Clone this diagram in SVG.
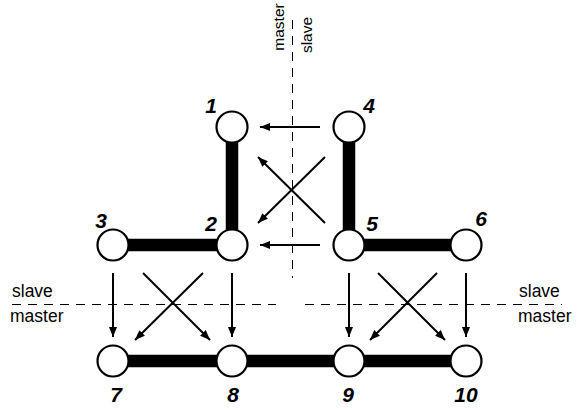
<svg xmlns="http://www.w3.org/2000/svg" width="579" height="410" viewBox="0 0 579 410">
  <style>
    .bg { fill: #ffffff; }
    .divider { stroke: #000; stroke-width: 1; stroke-dasharray: 9 7; fill: none; }
    .link { stroke: #000; stroke-width: 12.5; fill: none; }
    .msg { stroke: #000; stroke-width: 2; fill: none; marker-end: url(#head); }
    .node circle { fill: #fff; stroke: #000; stroke-width: 2.2; }
    .num { font-family: "Liberation Sans", Arial, sans-serif; font-size: 21px; font-weight: bold; font-style: italic; fill: #000; text-anchor: middle; }
    .side { font-family: "Liberation Sans", Arial, sans-serif; font-size: 17.5px; fill: #000; }
    .side-v { font-family: "Liberation Sans", Arial, sans-serif; font-size: 15.5px; fill: #000; text-anchor: middle; }
  </style>
  <defs>
    <marker id="head" viewBox="0 0 10 8" markerWidth="10" markerHeight="8" markerUnits="userSpaceOnUse" refX="10" refY="4" orient="auto">
      <path d="M0,0 L10,4 L0,8 Z" fill="#000"/>
    </marker>
  </defs>
  <rect class="bg" x="0" y="0" width="579" height="410"/>

  <!-- master/slave boundaries -->
  <g id="boundaries">
    <line class="divider" x1="292.5" y1="20" x2="292.5" y2="278"/>
    <line class="divider" x1="12" y1="304.5" x2="276" y2="304.5"/>
    <line class="divider" x1="305" y1="304.5" x2="562" y2="304.5"/>
    <text class="side-v" transform="translate(284,27) rotate(-90)">master</text>
    <text class="side-v" transform="translate(312,35) rotate(-90)">slave</text>
    <text class="side" x="12" y="297">slave</text>
    <text class="side" x="10" y="322">master</text>
    <text class="side" x="519" y="297">slave</text>
    <text class="side" x="518" y="322">master</text>
  </g>

  <!-- connectors -->
  <g id="connectors">
    <!-- thick links -->
    <line class="link" x1="232" y1="127" x2="232" y2="245"/>
    <line class="link" x1="349" y1="127" x2="349" y2="245"/>
    <line class="link" x1="113" y1="245" x2="232" y2="245"/>
    <line class="link" x1="349" y1="245" x2="466" y2="245"/>
    <line class="link" x1="113" y1="361" x2="466" y2="361"/>
    <!-- upper exchange -->
    <line class="msg" x1="320" y1="127" x2="260" y2="127"/>
    <line class="msg" x1="320" y1="245" x2="260" y2="245"/>
    <line class="msg" x1="325" y1="157" x2="258" y2="223"/>
    <line class="msg" x1="325" y1="223" x2="258" y2="157"/>
    <!-- lower left exchange -->
    <line class="msg" x1="113" y1="273" x2="113" y2="337"/>
    <line class="msg" x1="232" y1="273" x2="232" y2="337"/>
    <line class="msg" x1="143" y1="273" x2="210" y2="340"/>
    <line class="msg" x1="203" y1="273" x2="135" y2="340"/>
    <!-- lower right exchange -->
    <line class="msg" x1="349" y1="273" x2="349" y2="337"/>
    <line class="msg" x1="466" y1="273" x2="466" y2="337"/>
    <line class="msg" x1="378" y1="273" x2="445" y2="340"/>
    <line class="msg" x1="437" y1="273" x2="370" y2="340"/>
  </g>

  <!-- nodes -->
  <g id="node1" class="node"><circle cx="232" cy="127" r="15.5"/><text class="num" x="211" y="113">1</text></g>
  <g id="node2" class="node"><circle cx="232" cy="245" r="15.5"/><text class="num" x="211" y="231">2</text></g>
  <g id="node3" class="node"><circle cx="113" cy="245" r="15.5"/><text class="num" x="101" y="228">3</text></g>
  <g id="node4" class="node"><circle cx="349" cy="127" r="15.5"/><text class="num" x="369" y="113">4</text></g>
  <g id="node5" class="node"><circle cx="349" cy="245" r="15.5"/><text class="num" x="372" y="231">5</text></g>
  <g id="node6" class="node"><circle cx="466" cy="245" r="15.5"/><text class="num" x="481" y="226">6</text></g>
  <g id="node7" class="node"><circle cx="113" cy="361" r="15.5"/><text class="num" x="116" y="402">7</text></g>
  <g id="node8" class="node"><circle cx="232" cy="361" r="15.5"/><text class="num" x="233" y="402">8</text></g>
  <g id="node9" class="node"><circle cx="349" cy="361" r="15.5"/><text class="num" x="348" y="402">9</text></g>
  <g id="node10" class="node"><circle cx="466" cy="361" r="15.5"/><text class="num" x="466" y="402">10</text></g>
</svg>
